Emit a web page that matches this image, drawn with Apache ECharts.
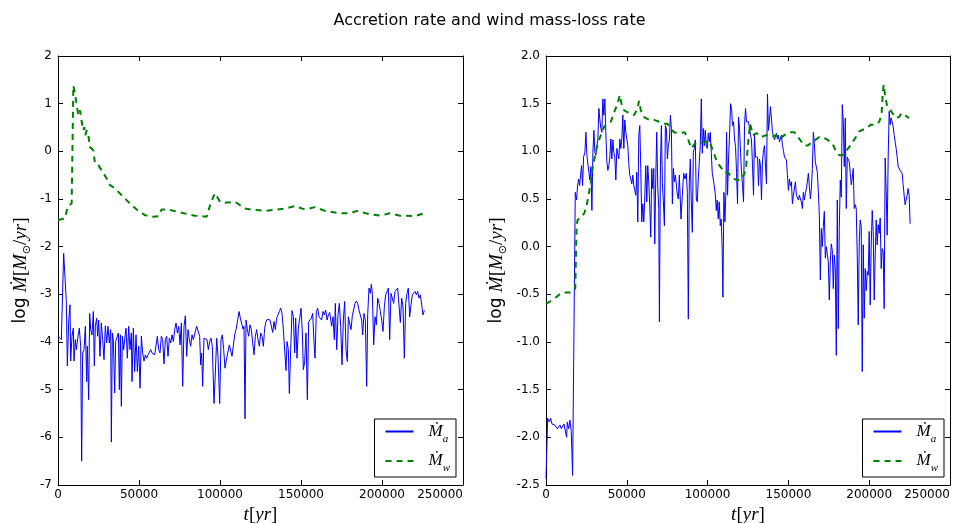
<!DOCTYPE html>
<html>
<head>
<meta charset="utf-8">
<script src="https://cdn.jsdelivr.net/npm/echarts@6/dist/echarts.min.js"></script>
<style>html,body{margin:0;padding:0;background:#fff}#c{width:979px;height:523px}</style>
</head>
<body>
<div id="c"></div>
<script>
// ---------- data (time in yr, values are log10 of rate) ----------
const titleText = 'Accretion rate and wind mass-loss rate';
const xTicks = [0, 50000, 100000, 150000, 200000, 250000];

const leftAccT = [0,1030,2060,2880,3500,4530,5150,5760,6590,7410,7820,8640,9470,9880,10700,11320,12350,13170,13990,14610,15230,16050,16880,17700,18110,18930,19550,20170,20990,21810,22430,23050,23870,24490,25110,25930,26750,27580,28400,29220,30050,30870,31690,32520,32930,33550,34160,34990,35600,36430,37250,37870,38480,39100,39720,40540,41160,41980,42810,43630,44450,45280,45690,46510,47330,48160,48980,49800,50630,51450,52270,53100,53920,54740,55570,56390,57210,58040,58860,59680,60510,61330,62150,62970,63800,64620,65440,66270,67090,67910,68740,69560,70380,71210,72030,72850,73680,74500,75320,76150,76970,77790,78620,79440,80260,81090,81910,82730,83550,
85600,86630,87450,88070,88690,89300,90130,91160,91980,92800,93630,94450,95270,96300,97120,97950,98770,99800,100620,101450,102270,103090,104120,104940,105770,106590,107410,108240,109060,110090,110910,111740,112560,113380,114210,114820,115440,116060,116880,117700,118530,119350,120170,121000,121820,122640,123470,124290,125110,125940,126760,127580,128410,129230,130050,130880,131700,132520,133350,134170,134990,135810,136640,137460,138280,139110,139930,140750,141370,142190,142810,143630,144460,145280,146100,146720,147540,148370,149190,150010,150840,151450,152280,153100,153920,154750,155570,156390,157220,158040,158660,159480,160300,161130,161950,162770,163600,164420,165240,166070,166890,167710,
168930,169750,170580,171190,172020,172840,173660,174490,175310,176130,176960,177780,178600,179220,180040,180870,181690,182510,183340,184160,184980,185800,186630,187450,188070,188890,189710,190540,191160,191980,192800,193420,194040,194860,195680,196510,197330,198150,198980,199800,200620,201450,202270,203090,203920,204740,205560,206380,207210,208030,208850,209680,210500,211320,212150,212970,213790,214620,215440,216260,217090,217910,218730,219560,220380,221200,222030,222850,223670,224500,225320,226140];
const leftAccV = [-3.88,-3.85,-3.95,-3.92,-2.14,-2.17,-3.15,-4.5,-3.57,-3.22,-4.4,-3.88,-3.71,-4.4,-3.95,-4.16,-3.88,-3.71,-4.09,-6.5,-4.23,-4.16,-3.67,-4.83,-4.09,-5.21,-3.4,-3.74,-3.85,-3.36,-4.5,-3.67,-3.5,-3.88,-3.54,-4.3,-3.6,-3.95,-4.37,-3.66,-4.02,-3.67,-4.02,-3.74,-6.1,-3.81,-3.95,-5.07,-3.99,-3.95,-3.81,-5.0,-3.85,-5.35,-3.88,-4.16,-3.95,-3.71,-4.34,-3.67,-4.16,-3.81,-4.83,-3.71,-4.62,-3.85,-4.62,-4.09,-4.97,-3.88,-4.23,-4.4,-4.27,-4.34,-4.27,-4.23,-4.16,-4.23,-4.27,-4.27,-4.3,-3.88,-4.16,-4.23,-3.88,-3.95,-4.46,-3.95,-3.88,-4.3,-3.92,-4.02,-3.85,-3.99,-3.74,-3.6,-3.81,-3.67,-4.06,-3.6,-4.93,-3.67,-3.45,-4.3,-3.74,-3.95,-4.09,-3.85,-3.95,
-3.67,-3.66,-3.88,-4.48,-4.23,-4.93,-3.92,-3.92,-3.95,-4.16,-3.99,-3.92,-4.09,-5.29,-4.65,-3.92,-4.3,-5.29,-3.95,-3.85,-4.16,-4.55,-4.34,-4.34,-4.06,-4.06,-4.3,-4.34,-3.85,-3.71,-3.54,-3.36,-3.5,-3.52,-3.73,-3.67,-5.61,-3.54,-3.74,-3.88,-3.64,-3.74,-4.02,-4.27,-3.88,-3.74,-3.95,-4.09,-3.81,-3.88,-4.09,-3.71,-3.57,-3.52,-3.5,-3.54,-3.5,-3.8,-3.57,-3.74,-3.5,-3.47,-3.36,-3.29,-3.4,-3.74,-3.73,-4.6,-3.99,-4.16,-5.08,-4.16,-3.34,-3.47,-4.23,-3.5,-4.34,-3.71,-3.67,-3.29,-3.81,-4.58,-4.41,-3.81,-5.21,-3.57,-3.54,-3.5,-3.4,-4.02,-4.34,-3.36,-3.29,-3.47,-3.43,-3.54,-3.36,-3.43,-3.33,-3.54,-3.43,-3.38,
-3.67,-3.47,-3.95,-3.19,-4.16,-3.43,-3.19,-3.67,-4.48,-3.54,-3.15,-4.16,-4.41,-3.47,-3.43,-3.74,-3.45,-3.43,-3.19,-3.14,-3.19,-3.33,-3.36,-3.54,-3.85,-3.4,-3.54,-4.93,-3.43,-2.87,-2.98,-2.79,-2.98,-4.06,-3.47,-3.64,-3.08,-3.19,-3.36,-3.54,-3.78,-3.26,-3.01,-3.01,-2.87,-3.95,-2.98,-2.98,-3.19,-2.94,-2.91,-2.87,-2.87,-3.59,-3.08,-3.26,-4.34,-3.19,-2.98,-2.87,-3.47,-3.22,-3.01,-3.05,-2.94,-3.01,-2.94,-3.08,-3.01,-2.98,-3.43,-3.34];

const leftWindT = [0,4320,5970,8440,9470,10500,11530,12550,13580,14610,15640,16260,16880,17700,18730,19760,21820,22840,24900,26960,30050,32110,35190,39310,45480,49600,53710,58860,61950,64000,68120,76350,84580,91790,93850,95900,96930,100020,103110,109280,115450,121210,127800,140100,146300,152500,158600,164800,174100,180300,184600,192600,198800,204900,211100,220400,225900];
const leftWindV = [-1.44,-1.41,-1.16,-1.09,1.38,1.21,0.97,0.76,0.86,0.62,0.44,0.51,0.34,0.44,0.34,0.09,0.02,-0.26,-0.29,-0.4,-0.57,-0.71,-0.78,-0.92,-1.13,-1.25,-1.34,-1.37,-1.36,-1.22,-1.22,-1.29,-1.35,-1.37,-1.13,-0.95,-0.88,-1.06,-1.08,-1.06,-1.2,-1.23,-1.25,-1.2,-1.15,-1.22,-1.17,-1.25,-1.3,-1.3,-1.25,-1.32,-1.35,-1.3,-1.35,-1.36,-1.3];

const rightAccT = [0,1030,2060,2880,3700,4530,5350,6170,7000,7820,8640,9470,10290,11110,11940,12760,13170,13990,14820,15640,16460,18110,18930,19550,20170,20790,21400,22020,22640,23260,24080,24700,25310,25930,26550,27170,27780,28400,29020,29640,30250,30870,31490,32100,32720,33340,33960,34570,35190,35810,36430,37040,37660,38280,38900,39510,40130,40750,41370,41980,42600,43220,43840,44450,45070,45690,46310,46920,47540,48160,48770,49390,50010,50630,51240,51860,52480,53100,53710,54330,54950,55570,56180,56800,57420,58040,58650,59270,59890,60510,61120,61740,62360,62970,63590,64210,64830,65440,66060,66680,67300,67910,68530,69150,69770,70180,70800,71410,72030,72650,73260,73880,74500,75120,75730,76350,76970,77590,78200,78820,79440,80060,80670,81290,81910,82530,
83540,84360,85190,86010,86830,87450,88070,88690,89300,89920,90540,91160,91770,92390,93010,93620,94240,94860,95480,96100,96710,97330,97950,98560,99180,99800,100420,101030,101650,102270,102890,103500,104120,104740,105360,105970,106590,107210,107820,108440,109060,109470,110090,110710,111320,111740,112350,112970,113590,114200,114820,115440,116060,116670,117290,117910,118530,119140,119760,120380,120990,121610,122230,122850,123470,124080,124700,125320,125940,126550,127170,127790,128410,129020,129640,130260,130880,131490,132110,132730,133340,133960,134580,135200,135810,136430,137050,137670,138280,138900,139520,140140,140750,141370,141990,142610,143220,143840,144460,145080,145690,146310,146930,147540,148160,148780,149400,150010,150630,151250,151870,152480,153100,153720,154340,154950,155570,156190,156810,157420,158040,158660,159280,159890,160510,161130,161750,162360,162980,163600,164220,164830,165450,166070,166680,167300,167920,
168520,169140,169760,170380,170990,171610,172230,172850,173460,174080,174700,175310,175930,176550,177170,177780,178400,179020,179640,180250,180870,181490,182110,182720,183340,183960,184580,185190,185810,186430,187050,187660,188280,188900,189520,190130,190750,191370,191980,192600,193220,193840,194450,195070,195690,196310,196920,197540,198160,198780,199390,200010,200630,201250,201860,202480,203100,203720,204330,204950,205570,206190,206800,207420,208040,208650,209270,209890,210510,211120,211740,212360,212980,213590,214210,214830,215450,216060,216680,217300,217920,218530,219150,219770,220380,221000,221620,222240,222850,223470,224090,224710,225330];
const rightAccV = [-2.43,-1.8,-1.84,-1.8,-1.86,-1.84,-1.87,-1.86,-1.91,-1.89,-1.87,-1.91,-1.89,-1.86,-1.87,-2.0,-1.84,-1.91,-1.82,-1.94,-2.4,0.57,0.49,0.64,0.71,0.64,0.75,0.85,0.64,0.94,0.99,1.2,0.96,0.98,0.78,0.7,0.84,0.38,0.99,1.22,0.99,0.96,1.05,1.13,1.45,1.33,1.24,1.2,1.55,1.38,1.55,1.19,0.89,0.8,0.85,0.94,1.13,0.92,1.12,0.99,0.94,0.7,1.03,1.03,0.92,1.13,1.03,1.13,1.38,1.03,1.33,1.2,1.19,1.06,0.87,0.75,0.77,0.66,0.75,0.64,0.64,0.54,0.78,0.26,1.17,1.27,0.82,0.26,0.45,0.26,0.5,0.85,0.47,0.85,0.68,0.43,0.1,0.82,0.61,0.82,0.03,0.71,1.2,0.64,0.4,-0.79,0.85,1.27,0.66,0.47,0.22,1.27,1.24,0.92,1.06,1.12,1.38,1.24,0.45,0.82,0.68,0.75,0.73,0.54,0.5,0.75,
0.29,0.54,0.77,0.71,0.77,0.57,-0.76,0.68,0.92,0.47,0.15,0.99,1.03,1.12,0.5,0.47,0.71,0.89,1.06,1.55,0.98,1.24,1.06,1.22,1.06,1.03,1.19,1.1,1.2,0.99,0.77,0.71,0.71,0.56,0.38,0.49,0.29,0.47,0.22,0.29,-0.06,-0.53,0.57,0.26,0.57,1.2,0.54,0.92,1.17,1.5,1.45,1.27,1.31,1.13,1.05,0.78,0.45,1.36,1.24,0.99,0.78,0.64,0.47,1.27,1.45,1.31,1.33,1.31,1.29,1.17,1.12,0.85,0.54,1.17,0.94,0.92,0.94,0.64,0.92,0.85,0.49,0.89,1.01,1.06,1.05,0.66,1.6,1.22,1.33,1.47,1.34,1.2,1.2,1.12,1.1,1.19,1.13,1.17,1.1,1.12,1.17,1.06,1.01,0.94,0.92,0.91,0.75,0.59,0.71,0.64,0.68,0.45,0.54,0.56,0.68,0.54,0.56,0.49,0.54,0.5,0.47,0.4,0.57,0.49,0.56,0.61,0.68,0.77,0.63,0.5,0.61,0.82,1.2,1.08,0.89,0.87,0.78,
0.58,0.33,-0.35,0.19,0.0,0.21,0.37,-0.12,0.0,-0.02,-0.16,-0.56,-0.16,0.03,-0.04,-0.44,-0.09,-0.23,-1.14,0.49,-0.86,0.19,0.7,0.52,1.49,1.31,0.84,1.35,0.4,0.94,0.94,0.89,0.91,0.65,0.72,0.82,0.4,0.44,0.4,-0.09,-0.82,0.05,0.28,0.21,-1.31,0.02,-0.75,-0.23,-0.46,-0.26,-0.3,0.16,-0.61,0.02,0.38,0.16,-0.56,-0.09,0.28,0.02,0.23,0.14,0.3,-0.23,-0.02,-0.05,-0.65,0.93,0.58,0.12,0.93,1.42,1.28,1.35,1.35,1.26,1.17,1.1,1.03,0.94,0.84,0.82,0.8,0.8,0.77,0.65,0.54,0.44,0.49,0.54,0.61,0.54,0.24];

const rightWindT = [0,2060,6170,9260,12350,15440,18110,18930,19550,21610,23670,25110,26340,27780,28810,30460,31900,33960,36020,38070,40130,42190,44250,45690,46920,48360,50420,52480,54540,56600,57620,58650,60710,63800,66890,69970,73060,75120,77180,79230,82320,85810,87860,89920,91980,95070,98150,101240,103300,105360,107410,110500,112560,114620,117700,120790,122850,123880,124910,125520,126350,127990,130460,133140,136230,139310,142400,144460,147540,150630,153720,156810,159890,161950,165040,169140,171200,174290,177370,179430,181490,183550,185600,188690,191780,193840,197950,201040,204130,206190,207630,208240,208860,209680,210920,212360,214420,216480,218530,219970,222030,223680,224710];
const rightWindV = [-0.6,-0.58,-0.53,-0.49,-0.48,-0.48,-0.44,0.22,0.28,0.31,0.35,0.43,0.54,0.68,0.82,0.96,1.08,1.17,1.26,1.29,1.31,1.41,1.5,1.59,1.48,1.43,1.41,1.4,1.38,1.45,1.53,1.43,1.36,1.33,1.33,1.31,1.29,1.29,1.24,1.2,1.19,1.2,1.13,1.03,1.08,1.08,1.1,1.1,1.01,0.91,0.85,0.78,0.78,0.73,0.7,0.7,0.77,0.85,1.05,1.17,1.29,1.17,1.19,1.15,1.17,1.15,1.17,1.13,1.17,1.2,1.2,1.13,1.06,1.06,1.1,1.15,1.15,1.12,1.08,1.0,0.96,0.96,1.0,1.07,1.15,1.21,1.24,1.28,1.28,1.31,1.38,1.56,1.7,1.61,1.49,1.45,1.4,1.35,1.36,1.4,1.38,1.36,1.35];

// ---------- chart ----------
const zip = (t, v) => t.map((x, i) => [x, v[i]]);
const BLUE = '#0000ff', GREEN = '#008000';
const sans = 'DejaVu Sans';
const serif = 'Liberation Serif';

const mathRich = {
  n: {fontFamily: sans, fontSize: 17, color: '#000'},
  r: {fontFamily: serif, fontSize: 19, color: '#000'},
  i: {fontFamily: serif, fontSize: 19, fontStyle: 'italic', color: '#000'},
  o: {fontFamily: 'DejaVu Sans', fontSize: 11, color: '#000', verticalAlign: 'bottom', lineHeight: 24}
};

function xAxes(gi) {
  const base = {
    type: 'value', gridIndex: gi, min: 0, max: 250000, interval: 50000,
    splitLine: {show: false},
    axisLine: {show: true, onZero: false, lineStyle: {color: '#000', width: 1}},
    axisTick: {show: true, inside: true, length: 5, lineStyle: {color: '#000'}},
  };
  return [
    Object.assign({}, base, {
      position: 'bottom',
      axisLabel: {show: true, color: '#000', fontFamily: sans, fontSize: 12, margin: 4, alignMaxLabel: 'right',
        formatter: v => String(v)},
      name: '{i|t}{r|[}{i|yr}{r|]}', nameLocation: 'middle', nameGap: 16,
      nameTextStyle: {rich: mathRich}
    }),
    Object.assign({}, base, {position: 'top', axisLabel: {show: false}})
  ];
}
function yAxes(gi, min, max, interval, fmt, gap) {
  const base = {
    type: 'value', gridIndex: gi, min: min, max: max, interval: interval,
    splitLine: {show: false},
    axisLine: {show: true, onZero: false, lineStyle: {color: '#000', width: 1}},
    axisTick: {show: true, inside: true, length: 5, lineStyle: {color: '#000'}},
  };
  return [
    Object.assign({}, base, {
      position: 'left',
      axisLabel: {show: true, color: '#000', fontFamily: sans, fontSize: 12, margin: 6, formatter: fmt},
      name: '{n|log }{i|Ṁ}{r|[}{i|M}{o|⊙}{r|/}{i|yr}{r|]}', nameLocation: 'middle', nameGap: gap,
      nameRotate: 90,
      nameTextStyle: {rich: mathRich}
    }),
    Object.assign({}, base, {position: 'right', axisLabel: {show: false}})
  ];
}

const legendRich = {
  i: {fontFamily: serif, fontSize: 17, fontStyle: 'italic', color: '#000', lineHeight: 20},
  s: {fontFamily: serif, fontSize: 11, fontStyle: 'italic', color: '#000', verticalAlign: 'bottom', lineHeight: 26}
};
function legend(right) {
  return {
    orient: 'vertical', right: right, bottom: 46,
    data: ['a', 'w'],
    itemWidth: 28, itemHeight: 14, itemGap: 8,
    padding: [4, 6, 3, 10],
    borderColor: '#000', borderWidth: 1, borderRadius: 0,
    backgroundColor: '#fff',
    itemStyle: {opacity: 0},
    formatter: n => n === 'a' ? '{i|Ṁ}{s|a}' : '{i|Ṁ}{s|w}',
    textStyle: {rich: legendRich, padding: [0, 0, 0, 10]},
    selectedMode: false
  };
}

function lineSeries(name, xi, yi, data, color, width, dashed) {
  return {
    name: name, type: 'line', xAxisIndex: xi, yAxisIndex: yi, data: data,
    symbol: 'none', showSymbol: false, smooth: false,
    lineStyle: {color: color, width: width, type: dashed ? [6, 5] : 'solid'},
    itemStyle: {color: color},
    z: dashed ? 3 : 2,
    animation: false
  };
}

const chart = echarts.init(document.getElementById('c'), null, {renderer: 'canvas'});
chart.setOption({
  backgroundColor: '#fff',
  animation: false,
  title: {text: titleText, left: 'center', top: 13, padding: 0,
    textStyle: {fontFamily: sans, fontSize: 16, fontWeight: 'normal', color: '#000'}},
  grid: [
    {left: 58, top: 56, width: 405, height: 429, containLabel: false, outerBoundsMode: 'none'},
    {left: 546, top: 56, width: 404, height: 429, containLabel: false, outerBoundsMode: 'none'}
  ],
  xAxis: [...xAxes(0), ...xAxes(1)],
  yAxis: [...yAxes(0, -7, 2, 1, v => String(v), 25), ...yAxes(1, -2.5, 2.0, 0.5, v => v.toFixed(1), 37)],
  legend: [legend(979 - 456), legend(979 - 944)],
  series: [
    lineSeries('a', 0, 0, zip(leftAccT, leftAccV), BLUE, 1, false),
    lineSeries('w', 0, 0, zip(leftWindT, leftWindV), GREEN, 2, true),
    lineSeries('a', 2, 2, zip(rightAccT, rightAccV), BLUE, 1, false),
    lineSeries('w', 2, 2, zip(rightWindT, rightWindV), GREEN, 2, true)
  ]
});
</script>
</body>
</html>
